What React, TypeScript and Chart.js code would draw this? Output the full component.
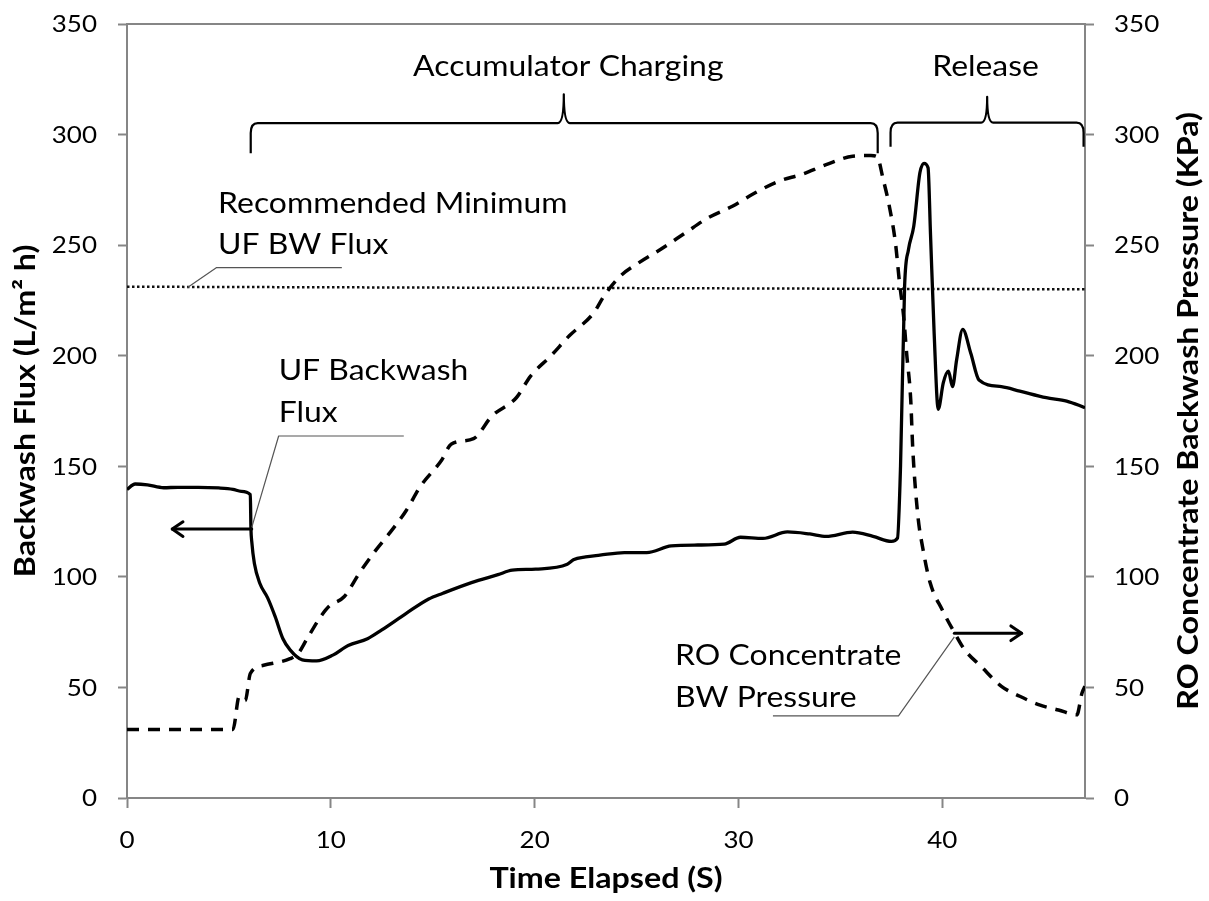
import React, { useEffect, useRef } from "react";
import { Chart, registerables } from "chart.js";

Chart.register(...registerables);

// ---------- data ----------
const fluxTime = [
  0, 0.4, 1.0, 1.8, 2.5, 3.5, 4.5, 5.2, 5.6, 6.05, 6.08, 6.12, 6.25, 6.52, 6.9, 7.27, 7.65, 8.0,
  8.6, 9.3, 10.1, 10.85, 11.8, 12.5, 13.7, 14.8, 15.5, 16.9, 18.2, 18.9, 20.05, 21.6, 21.9, 22.5,
  23.2, 24.4, 25.5, 26.7, 28.0, 29.3, 30.1, 31.2, 32.4, 33.5, 34.3, 35.6, 36.6, 37.5, 37.8, 37.95,
  38.15, 38.34, 38.6, 38.9, 39.1, 39.3, 39.42, 39.6, 39.8, 40.05, 40.3, 40.5, 40.7, 41.0, 41.4,
  41.8, 42.9, 43.8, 45.1, 46.1, 47,
];
const fluxValues = [
  139.5, 142, 141.6, 140.3, 140.5, 140.5, 140.2, 139.6, 138.7, 137.2, 122, 116, 106, 97, 90.5,
  82, 72, 67, 62.5, 62, 64.6, 69, 72, 76, 83.5, 90, 92.6, 97.4, 101, 103, 103.5, 105.7, 107.7,
  109, 109.8, 111, 111, 114, 114.4, 114.8, 117.9, 117.4, 120.3, 119.4, 118.3, 120.2, 118.3, 116,
  117.5, 150, 231.5, 248, 258.6, 282.7, 287, 285, 255, 210, 175.8, 187.8, 193, 186, 198, 211.9,
  201, 189, 186, 184, 181, 179.5, 176.5,
];

const pressureTime = [
  0, 5.2, 5.5, 5.8, 6.05, 6.7, 8.0, 8.4, 8.8, 9.5, 9.9, 10.65, 11.4, 12.2, 12.9, 13.7, 14.4,
  15.45, 15.9, 17.0, 17.9, 19.1, 19.8, 20.8, 21.7, 22.9, 23.4, 24.2, 25.1, 26.3, 27.4, 28.5,
  29.7, 30.8, 32.0, 33.1, 34.3, 35.6, 36.5, 36.8, 37.1, 37.4, 37.7, 37.9, 38.1, 38.25, 38.45,
  38.55, 38.8, 39.05, 39.4, 40.0, 40.6, 41.1, 41.9, 42.9, 43.8, 44.8, 45.7, 46.6, 46.85, 47,
];
const pressureValues = [
  31, 31, 45.8, 44, 56.3, 60, 63, 65.4, 71.5, 82, 86.6, 91, 101.7, 112, 120, 130, 141, 153,
  160, 162.5, 172.7, 181, 190.8, 200, 209, 219.4, 227, 236, 242, 248.8, 255.6, 262.3, 267.6,
  273.6, 279, 282, 286.4, 290.2, 290.5, 290, 279.7, 267.6, 251, 233, 218, 201, 180, 158, 127.7,
  112.6, 97.4, 85, 74.7, 67, 59.5, 50.5, 46, 42, 39.8, 37.6, 47.4, 50.5,
];

const minFluxTime = [0, 47];
const minFluxValues = [231.2, 230];

const xTickValues = [0, 10, 20, 30, 40];
const yTickValues = [0, 50, 100, 150, 200, 250, 300, 350];

const xTitle = "Time Elapsed (S)";
const yTitle = "Backwash Flux (L/m\u00B2 h)";
const y1Title = "RO Concentrate Backwash Pressure (KPa)";

// annotation content (data coordinates)
const braceLabels = ["Accumulator Charging", "Release"];
const braceFrom = [6.07, 37.46];
const braceTo = [36.83, 46.93];
const braceTip = [21.43, 42.2];
const braceLineY = [305.2, 305.4];
const braceEndY = [291.5, 294.5];
const braceTipY = [318.2, 317.1];
const braceLabelX = [21.65, 42.12];
const braceLabelY = [326.5, 326.5];

const noteLines = [
  ["Recommended Minimum", "UF BW Flux"],
  ["UF Backwash", "Flux"],
  ["RO Concentrate", "BW Pressure"],
];
const noteX = [4.47, 7.44, 26.89];
const noteY = [
  [264.7, 246.0],
  [189.0, 170.2],
  [60.1, 41.3],
];
const leaderX = [
  [2.97, 4.38, 10.54],
  [13.58, 7.44, 6.12],
  [31.69, 37.85, 40.59],
];
const leaderY = [
  [230.9, 239.8, 239.8],
  [163.7, 163.7, 122.4],
  [37.1, 37.1, 72.9],
];
const arrowFromX = [6.12, 40.59];
const arrowToX = [2.22, 43.89];
const arrowY = [121.6, 74.5];

// ---------- styles ----------
const FONT = "Lato, 'Open Sans', sans-serif";
const AXIS_COLOR = "#868686";
const CAP = 0.717; // cap-height ratio of the font
const TICK_SIZE = 23;
const TICK_SX = 1.13;
const NOTE_SIZE = 29;
const NOTE_SX = 1.1;
const TITLE_SIZE = 28;
const TITLE_SX = 1.15;

const pts = (xs: number[], ys: number[]) => xs.map((x, i) => ({ x, y: ys[i] }));

function drawText(
  ctx: CanvasRenderingContext2D,
  text: string,
  x: number,
  y: number,
  align: CanvasTextAlign,
  font: string,
  sx: number,
  rotate = 0
) {
  ctx.save();
  ctx.font = font;
  ctx.textAlign = align;
  ctx.textBaseline = "alphabetic";
  ctx.fillStyle = "#000";
  ctx.translate(x, y);
  if (rotate) ctx.rotate(rotate);
  ctx.scale(sx, 1);
  ctx.fillText(text, 0, 0);
  ctx.restore();
}

function arrowHead(ctx: CanvasRenderingContext2D, x0: number, y0: number, x1: number, y1: number) {
  const a = Math.atan2(y1 - y0, x1 - x0);
  const L = 13;
  const W = 0.6;
  ctx.beginPath();
  ctx.moveTo(x1 - L * Math.cos(a - W), y1 - L * Math.sin(a - W));
  ctx.lineTo(x1, y1);
  ctx.lineTo(x1 - L * Math.cos(a + W), y1 - L * Math.sin(a + W));
  ctx.stroke();
}

const annotationPlugin = {
  id: "annotations",
  afterDraw(chart: any) {
    const { ctx, chartArea, scales } = chart;
    const px = (v: number) => scales.x.getPixelForValue(v);
    const py = (v: number) => scales.y.getPixelForValue(v);
    const py1 = (v: number) => scales.y1.getPixelForValue(v);
    ctx.save();

    // top frame line
    ctx.strokeStyle = AXIS_COLOR;
    ctx.lineWidth = 2;
    ctx.beginPath();
    ctx.moveTo(chartArea.left, chartArea.top);
    ctx.lineTo(chartArea.right, chartArea.top);
    ctx.stroke();

    // braces
    ctx.strokeStyle = "#000";
    ctx.lineWidth = 2.2;
    ctx.lineJoin = "round";
    for (let i = 0; i < braceFrom.length; i++) {
      const x0 = px(braceFrom[i]);
      const x1 = px(braceTo[i]);
      const xm = px(braceTip[i]);
      const yl = py(braceLineY[i]);
      const yb = py(braceEndY[i]);
      const yt = py(braceTipY[i]);
      const r = 7;
      ctx.beginPath();
      ctx.moveTo(x0, yb);
      ctx.lineTo(x0, yl + 10);
      ctx.quadraticCurveTo(x0, yl, x0 + r, yl);
      ctx.lineTo(xm - 6, yl);
      ctx.quadraticCurveTo(xm, yl, xm, yt);
      ctx.quadraticCurveTo(xm, yl, xm + 6, yl);
      ctx.lineTo(x1 - r, yl);
      ctx.quadraticCurveTo(x1, yl, x1, yl + 10);
      ctx.lineTo(x1, yb);
      ctx.stroke();
    }

    // leader lines
    ctx.strokeStyle = "#555";
    ctx.lineWidth = 1.2;
    for (let i = 0; i < leaderX.length; i++) {
      ctx.beginPath();
      leaderX[i].forEach((x, j) => {
        const X = px(x);
        const Y = py(leaderY[i][j]);
        if (j === 0) ctx.moveTo(X, Y);
        else ctx.lineTo(X, Y);
      });
      ctx.stroke();
    }

    // arrows
    ctx.strokeStyle = "#000";
    ctx.lineWidth = 3;
    ctx.lineCap = "round";
    for (let i = 0; i < arrowFromX.length; i++) {
      const x0 = px(arrowFromX[i]);
      const x1 = px(arrowToX[i]);
      const y = py(arrowY[i]);
      ctx.beginPath();
      ctx.moveTo(x0, y);
      ctx.lineTo(x1, y);
      ctx.stroke();
      arrowHead(ctx, x0, y, x1, y);
    }
    ctx.restore();

    // annotation texts
    const noteFont = `${NOTE_SIZE}px ${FONT}`;
    braceLabels.forEach((t, i) =>
      drawText(ctx, t, px(braceLabelX[i]), py(braceLabelY[i]), "center", noteFont, NOTE_SX)
    );
    noteLines.forEach((lines, i) => {
      lines.forEach((t, j) => drawText(ctx, t, px(noteX[i]), py(noteY[i][j]), "left", noteFont, NOTE_SX));
    });

    // tick labels
    const tickFont = `${TICK_SIZE}px ${FONT}`;
    const half = (CAP * TICK_SIZE) / 2;
    xTickValues.forEach((v) =>
      drawText(ctx, String(v), px(v), chartArea.bottom + 34 + 2 * half, "center", tickFont, TICK_SX)
    );
    yTickValues.forEach((v) => {
      drawText(ctx, String(v), chartArea.left - 30, py(v) + half, "right", tickFont, TICK_SX);
      drawText(ctx, String(v), chartArea.right + 29, py1(v) + half, "left", tickFont, TICK_SX);
    });

    // axis titles
    const titleFont = `bold ${TITLE_SIZE}px ${FONT}`;
    const midY = (chartArea.top + chartArea.bottom) / 2;
    drawText(ctx, xTitle, (chartArea.left + chartArea.right) / 2, chartArea.bottom + 90, "center", titleFont, TITLE_SX);
    drawText(ctx, yTitle, chartArea.left - 92, midY, "center", titleFont, TITLE_SX, -Math.PI / 2);
    drawText(ctx, y1Title, chartArea.right + 113, midY, "center", titleFont, TITLE_SX, -Math.PI / 2);
  },
};

export default function App() {
  const ref = useRef<HTMLCanvasElement | null>(null);

  useEffect(() => {
    document.body.style.margin = "0";
    const canvas = ref.current;
    if (!canvas) return;
    const gridOpts = {
      drawOnChartArea: false,
      drawTicks: true,
      tickLength: 9,
      tickColor: AXIS_COLOR,
      tickWidth: 2,
    };
    const borderOpts = { display: true, color: AXIS_COLOR, width: 2 };
    const chart = new Chart(canvas, {
      type: "line",
      data: {
        datasets: [
          {
            label: "UF Backwash Flux",
            data: pts(fluxTime, fluxValues),
            borderColor: "#000",
            borderWidth: 3.3,
            pointRadius: 0,
            cubicInterpolationMode: "monotone",
            yAxisID: "y",
          },
          {
            label: "RO Concentrate BW Pressure",
            data: pts(pressureTime, pressureValues),
            borderColor: "#000",
            borderWidth: 3.5,
            borderDash: [12, 9],
            pointRadius: 0,
            cubicInterpolationMode: "monotone",
            yAxisID: "y1",
          },
          {
            label: "Recommended Minimum UF BW Flux",
            data: pts(minFluxTime, minFluxValues),
            borderColor: "#111",
            borderWidth: 2.5,
            borderDash: [2.5, 2.5],
            pointRadius: 0,
            yAxisID: "y",
          },
        ],
      },
      options: {
        responsive: false,
        animation: false,
        devicePixelRatio: 1,
        layout: { padding: { top: 24, left: 0, right: 0, bottom: 0 } },
        plugins: { legend: { display: false }, tooltip: { enabled: false } },
        scales: {
          x: {
            type: "linear",
            min: 0,
            max: 47,
            afterBuildTicks: (s: any) => {
              s.ticks = xTickValues.map((v) => ({ value: v }));
            },
            afterFit: (s: any) => {
              s.height = 103;
              s.paddingLeft = 0;
              s.paddingRight = 0;
            },
            grid: { ...gridOpts, tickLength: 10 },
            border: borderOpts,
            ticks: { display: false },
            title: { display: false },
          },
          y: {
            type: "linear",
            position: "left",
            min: 0,
            max: 350,
            afterBuildTicks: (s: any) => {
              s.ticks = yTickValues.map((v) => ({ value: v }));
            },
            afterFit: (s: any) => {
              s.width = 127;
              s.paddingTop = 0;
              s.paddingBottom = 0;
            },
            grid: gridOpts,
            border: borderOpts,
            ticks: { display: false },
            title: { display: false },
          },
          y1: {
            type: "linear",
            position: "right",
            min: 0,
            max: 350,
            afterBuildTicks: (s: any) => {
              s.ticks = yTickValues.map((v) => ({ value: v }));
            },
            afterFit: (s: any) => {
              s.width = 124;
              s.paddingTop = 0;
              s.paddingBottom = 0;
            },
            grid: gridOpts,
            border: borderOpts,
            ticks: { display: false },
            title: { display: false },
          },
        },
      },
      plugins: [annotationPlugin],
    });
    return () => chart.destroy();
  }, []);

  return (
    <div style={{ position: "fixed", left: 0, top: 0, width: 1209, height: 901, background: "#fff" }}>
      <canvas ref={ref} width={1209} height={901} style={{ display: "block" }} />
    </div>
  );
}
